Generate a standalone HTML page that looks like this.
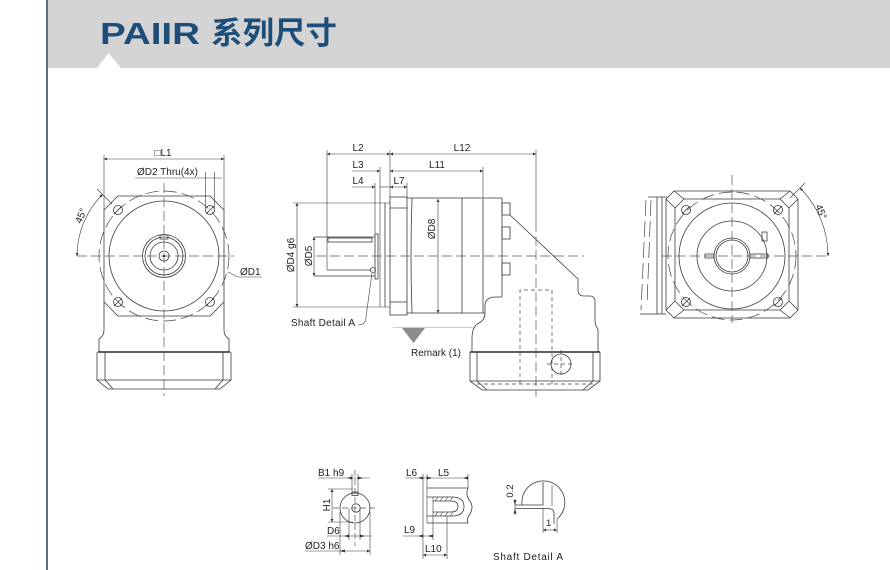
<!DOCTYPE html>
<html><head><meta charset="utf-8"><style>
html,body{margin:0;padding:0;background:#fff;}
svg{display:block;}
text{font-family:"Liberation Sans","DejaVu Sans",sans-serif;fill:#222;}
.t{font-size:10px;}
.l{fill:none;stroke:#3a3a3a;stroke-width:0.8;}
.c{fill:none;stroke:#555;stroke-width:0.7;stroke-dasharray:10 4;}
.d{fill:none;stroke:#444;stroke-width:0.7;stroke-dasharray:13 5;}
.h{fill:none;stroke:#444;stroke-width:0.7;stroke-dasharray:4 3;}
.m{fill:none;stroke:#3a3a3a;stroke-width:0.6;}
</style></head><body>
<svg width="890" height="570" viewBox="0 0 890 570" xmlns="http://www.w3.org/2000/svg">
<defs>
<marker id="a" viewBox="0 0 10 10" refX="10" refY="5" markerWidth="5" markerHeight="3" orient="auto-start-reverse" markerUnits="userSpaceOnUse"><path d="M0,0 L10,5 L0,10 z" fill="#333"/></marker>
</defs>
<!-- header -->
<rect x="48" y="0" width="842" height="68" fill="#d4d4d4"/>
<polygon points="97,68 108.5,53 121,68" fill="#fff"/>
<line x1="47" y1="0" x2="47" y2="570" stroke="#2b3d57" stroke-width="1.5"/>
<text x="100" y="44" font-size="31" font-weight="bold" textLength="100" lengthAdjust="spacingAndGlyphs" style="fill:#1d4e7a;font-family:'Liberation Sans',sans-serif">PAIIR</text>
<text x="211" y="44" font-size="31" font-weight="bold" textLength="126" lengthAdjust="spacingAndGlyphs" style="fill:#1d4e7a;font-family:'Liberation Sans','Noto Sans CJK SC',sans-serif">系列尺寸</text>

<!-- ============ LEFT VIEW ============ -->
<g>
<path class="l" d="M104,302 L104,210 L118,196 L210,196 L224,210 L224,302 M104,302 L118,316 L210,316 L224,302"/>
<path class="l" d="M104,302 L104,330 Q104,336 99,339 L99,352"/>
<path class="l" d="M224,302 L224,330 Q224,336 229,339 L229,352"/>
<line x1="98" y1="352" x2="230" y2="352" stroke="#2a2a2a" stroke-width="1.6"/>
<path class="l" d="M97,352 L97,380 L108,389 L220,389 L231,380 L231,352"/>
<path class="l" d="M97,380 L231,380 M105,352 L105,380 M223,352 L223,380 M105,380 L113,389 M223,380 L215,389"/>
<circle class="d" cx="164" cy="256" r="65"/>
<circle class="l" cx="164" cy="256" r="55"/>
<circle class="l" cx="164" cy="256" r="21.5"/>
<circle class="l" cx="164" cy="256" r="19"/>
<circle class="l" cx="164" cy="256" r="14"/>
<circle class="l" cx="164" cy="256" r="5"/>
<circle cx="164" cy="256" r="1.3" fill="#333"/>
<rect class="l" x="160" y="235" width="8" height="4"/>
<g class="l">
<circle cx="118" cy="210" r="4.5"/><line x1="114" y1="214" x2="122" y2="206"/>
<circle cx="210" cy="210" r="4.5"/><line x1="206" y1="214" x2="214" y2="206"/>
<circle cx="118" cy="302" r="4.5"/><line x1="114" y1="306" x2="122" y2="298"/>
<circle cx="210" cy="302" r="4.5"/><line x1="206" y1="306" x2="214" y2="298"/>
</g>
<line class="c" x1="77" y1="256" x2="234" y2="256"/>
<line class="c" x1="164" y1="183" x2="164" y2="396"/>
<line class="m" x1="104" y1="159" x2="224" y2="159" marker-start="url(#a)" marker-end="url(#a)"/>
<line class="m" x1="104" y1="155" x2="104" y2="210"/>
<line class="m" x1="224" y1="155" x2="224" y2="210"/>
<text class="t" x="163" y="156" text-anchor="middle">□L1</text>
<text class="t" x="137" y="175">ØD2 Thru(4x)</text>
<line class="m" x1="135" y1="178" x2="222" y2="178"/>
<line class="m" x1="205.5" y1="172" x2="205.5" y2="208"/>
<line class="m" x1="214.5" y1="172" x2="214.5" y2="208"/>
<line class="m" x1="112" y1="204" x2="97" y2="189"/>
<path class="m" d="M102.5,194.5 A87,87 0 0 0 77,256" marker-start="url(#a)" marker-end="url(#a)"/>
<text class="t" x="0" y="0" text-anchor="middle" transform="translate(84,217) rotate(-68)">45°</text>
<path class="m" d="M228,272 L238,277 L262,277"/>
<text class="t" x="240" y="275">ØD1</text>
</g>

<!-- ============ MIDDLE VIEW ============ -->
<g>
<line class="m" x1="327" y1="154" x2="390" y2="154" marker-start="url(#a)" marker-end="url(#a)"/>
<line class="m" x1="390" y1="154" x2="536" y2="154" marker-start="url(#a)" marker-end="url(#a)"/>
<text class="t" x="358" y="151" text-anchor="middle">L2</text>
<text class="t" x="462" y="151" text-anchor="middle">L12</text>
<line class="m" x1="352" y1="171" x2="380" y2="171" marker-end="url(#a)"/>
<line class="m" x1="390" y1="171" x2="483" y2="171" marker-start="url(#a)" marker-end="url(#a)"/>
<text class="t" x="358" y="168" text-anchor="middle">L3</text>
<text class="t" x="437" y="168" text-anchor="middle">L11</text>
<line class="m" x1="352" y1="187" x2="375" y2="187" marker-end="url(#a)"/>
<line class="m" x1="380" y1="187" x2="390" y2="187"/>
<line class="m" x1="390" y1="187" x2="407" y2="187" marker-start="url(#a)" marker-end="url(#a)"/>
<text class="t" x="358" y="184" text-anchor="middle">L4</text>
<text class="t" x="399" y="184" text-anchor="middle">L7</text>
<line class="m" x1="327" y1="150" x2="327" y2="270"/>
<line class="m" x1="390" y1="150" x2="390" y2="197"/>
<line class="m" x1="536" y1="150" x2="536" y2="222"/>
<line class="m" x1="380" y1="167" x2="380" y2="307"/>
<line class="m" x1="483" y1="167" x2="483" y2="199"/>
<line class="m" x1="375" y1="183" x2="375" y2="234"/>
<line class="m" x1="407" y1="183" x2="407" y2="198"/>
<line class="m" x1="297" y1="203" x2="297" y2="307" marker-start="url(#a)" marker-end="url(#a)"/>
<line class="m" x1="293" y1="203" x2="390" y2="203"/>
<line class="m" x1="293" y1="307" x2="390" y2="307"/>
<text class="t" x="0" y="0" text-anchor="middle" transform="translate(294,255) rotate(-90)">ØD4 g6</text>
<path class="l" d="M314,237 L375,237 M314,276 L375,276"/>
<line class="m" x1="314" y1="237" x2="314" y2="276" marker-start="url(#a)" marker-end="url(#a)"/>
<text class="t" x="0" y="0" text-anchor="middle" transform="translate(312,256) rotate(-90)">ØD5</text>
<rect class="l" x="328" y="238" width="44" height="4"/>
<path class="l" d="M327,270 L371,270"/>
<circle class="l" cx="373" cy="270" r="2.5"/>
<rect class="l" x="375" y="234" width="3" height="45"/>
<line class="l" x1="385" y1="203" x2="385" y2="307"/>
<rect class="l" x="390" y="197" width="17" height="118"/>
<path class="l" d="M390,208 L407,208 M390,302 L407,302"/>
<path class="l" d="M407,198 L502,198 L502,297 M485,313 L407,313"/>
<path class="l" d="M412,198 Q410,256 412,313 M462,198 L462,313 M483,199 L483,313"/>
<line class="m" x1="438" y1="199" x2="438" y2="313" marker-start="url(#a)" marker-end="url(#a)"/>
<text class="t" x="0" y="0" text-anchor="middle" transform="translate(435,229) rotate(-90)">ØD8</text>
<rect class="l" x="502" y="203" width="8" height="12"/>
<rect class="l" x="502" y="227" width="8" height="12"/>
<rect class="l" x="502" y="263" width="8" height="12"/>
<path class="l" d="M510,215 L578,279 L578,290 Q578,296 584,296 L590,296 Q595,296 595,302 L595,320 Q595,326 598,329 L598,352"/>
<path class="l" d="M472,352 L472,339 Q472,326 479,323 Q485,320 485,313 L485,306 Q485,298 494,297 L502,297"/>
<line x1="470" y1="352" x2="600" y2="352" stroke="#2a2a2a" stroke-width="1.6"/>
<path class="l" d="M470,352 L470,381 L482,390 L588,390 L600,381 L600,352"/>
<path class="l" d="M470,381 L600,381 M477,352 L477,381 M593,352 L593,381 M477,381 L487,390 M593,381 L583,390"/>
<line class="h" x1="477" y1="384" x2="593" y2="384"/>
<path class="h" d="M520,384 L520,290 L552,290 L552,384"/>
<line class="c" x1="536" y1="222" x2="536" y2="397"/>
<line class="c" x1="316" y1="256" x2="584" y2="256"/>
<circle class="l" cx="561" cy="364" r="10"/>
<line class="h" x1="547" y1="364" x2="575" y2="364"/>
<line class="h" x1="561" y1="350" x2="561" y2="378"/>
<line x1="393" y1="327.5" x2="473" y2="327.5" stroke="#bbb" stroke-width="0.7"/>
<polygon points="402,328 425,328 413.5,343" fill="#8c8c8c"/>
<text class="t" x="411" y="356">Remark (1)</text>
<text class="t" x="291" y="326" textLength="64" lengthAdjust="spacing">Shaft Detail  A</text>
<path class="m" d="M358,325 Q366,325 366,317 L372,273"/>
</g>

<!-- ============ RIGHT VIEW ============ -->
<g>
<path class="l" d="M648,197 L667,197 M640,314 L666,314 M657,197 L657,314 M662,197 L662,314"/>
<line class="d" x1="646" y1="200" x2="641" y2="310" style="stroke-dasharray:16 5"/>
<line class="d" x1="651" y1="200" x2="647" y2="305" style="stroke-dasharray:16 5"/>
<path class="l" d="M674,191 L790,191 L798,199 L798,310 L790,318 L674,318 L666,310 L666,199 Z"/>
<path class="l" d="M684,199 L780,199 L789,208 L789,301 L780,310 L684,310 L675,301 L675,208 Z"/>
<path class="l" d="M674,191 L684,199 M666,199 L675,208 M790,191 L780,199 M798,199 L789,208 M666,310 L675,301 M674,318 L684,310 M798,310 L789,301 M790,318 L780,310"/>
<circle class="d" cx="732" cy="256" r="64"/>
<circle class="l" cx="732" cy="256" r="53"/>
<circle class="l" cx="732" cy="256" r="35"/>
<circle class="l" cx="732" cy="256" r="18"/>
<circle class="l" cx="732" cy="256" r="16"/>
<rect class="l" x="705" y="254" width="9" height="4"/>
<rect class="l" x="750" y="254" width="18" height="4"/>
<rect class="l" x="762" y="232" width="5" height="9"/>
<g class="l">
<circle cx="686" cy="210" r="4.5"/><line x1="682" y1="214" x2="690" y2="206"/>
<circle cx="778" cy="210" r="4.5"/><line x1="774" y1="214" x2="782" y2="206"/>
<circle cx="686" cy="302" r="4.5"/><line x1="682" y1="306" x2="690" y2="298"/>
<circle cx="778" cy="302" r="4.5"/><line x1="774" y1="306" x2="782" y2="298"/>
</g>
<line class="c" x1="662" y1="256" x2="830" y2="256"/>
<line class="c" x1="732" y1="175" x2="732" y2="323"/>
<line class="m" x1="790" y1="198" x2="805" y2="183"/>
<path class="m" d="M800,188 A96,96 0 0 1 828,256" marker-start="url(#a)" marker-end="url(#a)"/>
<text class="t" x="0" y="0" text-anchor="middle" transform="translate(818,213) rotate(68)">45°</text>
</g>

<!-- ============ DETAIL 1 ============ -->
<g>
<circle class="l" cx="355" cy="508" r="15"/>
<circle class="l" cx="356" cy="508" r="4.2"/>
<rect class="l" x="352" y="492" width="6" height="3.5"/>
<line class="m" x1="352" y1="474" x2="352" y2="493"/>
<line class="m" x1="358" y1="474" x2="358" y2="493"/>
<line class="m" x1="318" y1="478" x2="370" y2="478"/>
<path d="M347,478 L352,476.5 L352,479.5 Z M363,478 L358,476.5 L358,479.5 Z" fill="#333"/>
<text class="t" x="318" y="476">B1 h9</text>
<line class="c" x1="333" y1="508" x2="376" y2="508" style="stroke-dasharray:6 3"/>
<line class="c" x1="355" y1="470" x2="355" y2="546" style="stroke-dasharray:6 3"/>
<line class="m" x1="332" y1="489" x2="332" y2="522" marker-start="url(#a)" marker-end="url(#a)"/>
<line class="m" x1="328" y1="489" x2="353" y2="489"/>
<line class="m" x1="328" y1="522" x2="353" y2="522"/>
<text class="t" x="0" y="0" text-anchor="middle" transform="translate(330,505) rotate(-90)">H1</text>
<line class="m" x1="349" y1="508" x2="349" y2="540"/>
<line class="m" x1="360" y1="508" x2="360" y2="540"/>
<line class="m" x1="327" y1="536" x2="372" y2="536"/>
<path d="M344,536 L349,534.5 L349,537.5 Z M365,536 L360,534.5 L360,537.5 Z" fill="#333"/>
<text class="t" x="327" y="534">D6</text>
<line class="m" x1="340" y1="512" x2="340" y2="555"/>
<line class="m" x1="370" y1="512" x2="370" y2="555"/>
<line class="m" x1="305" y1="551" x2="370" y2="551" marker-end="url(#a)"/>
<path d="M340,551 L345,549.5 L345,552.5 Z" fill="#333"/>
<text class="t" x="305" y="549">ØD3 h6</text>
</g>

<!-- ============ DETAIL 2 ============ -->
<g>
<line class="m" x1="405" y1="478" x2="468" y2="478"/>
<path d="M418,478 L423,476.5 L423,479.5 Z M432,478 L427,476.5 L427,479.5 Z M463,478 L468,476.5 L468,479.5 Z" fill="#333"/>
<text class="t" x="406" y="476">L6</text>
<text class="t" x="438" y="476">L5</text>
<line class="m" x1="423" y1="474" x2="423" y2="559"/>
<line class="m" x1="427" y1="474" x2="427" y2="523"/>
<line class="m" x1="468" y1="474" x2="468" y2="488"/>
<path class="l" d="M427,488 L468,488 Q465,495 470,501 Q474,507 470,514 Q466,519 468,523 L427,523"/>
<path class="l" d="M427,497 L452,497 Q464,497 464,506.5 Q464,516 452,516 L427,516"/>
<path class="l" d="M433,501 L451,501 Q458,501 458,506.5 Q458,512 451,512 L433,512"/>
<path class="m" d="M435,501 L438,497 M440,501 L443,497 M445,501 L448,497 M450,501 L453,497 M435,516 L438,512 M440,516 L443,512 M445,516 L448,512 M450,516 L453,512"/>
<line class="m" x1="433" y1="497" x2="433" y2="540"/>
<line class="m" x1="403" y1="536" x2="433" y2="536"/>
<path d="M418,536 L423,534.5 L423,537.5 Z M428,536 L433,534.5 L433,537.5 Z" fill="#333"/>
<text class="t" x="404" y="533">L9</text>
<line class="m" x1="447" y1="516" x2="447" y2="559"/>
<line class="m" x1="423" y1="555" x2="447" y2="555" marker-start="url(#a)" marker-end="url(#a)"/>
<text class="t" x="425" y="552">L10</text>
</g>

<!-- ============ DETAIL 3 ============ -->
<g>
<path class="l" d="M522,505 A21.5,21.5 0 1 1 557,519"/>
<path class="l" d="M515,505 L543,505 L543,482"/>
<path class="l" d="M515,508.5 L548,508.5 Q554,508.5 554,514 L554,524"/>
<line class="m" x1="552" y1="485" x2="552" y2="506"/>
<line class="m" x1="515" y1="499" x2="515" y2="515"/>
<path d="M515,505 L513.5,500 L516.5,500 Z M515,508.5 L513.5,513.5 L516.5,513.5 Z" fill="#333"/>
<text class="t" x="0" y="0" text-anchor="middle" style="font-size:9.5px" transform="translate(513,491) rotate(-90)">0.2</text>
<line class="m" x1="543" y1="508" x2="543" y2="533"/>
<line class="m" x1="557" y1="519" x2="557" y2="533"/>
<line class="m" x1="543" y1="530" x2="557" y2="530" marker-start="url(#a)" marker-end="url(#a)"/>
<text class="t" x="546" y="526" style="font-size:9.5px">1</text>
<text class="t" x="493" y="560" textLength="70" lengthAdjust="spacing">Shaft  Detail  A</text>
</g>
</svg>
</body></html>
